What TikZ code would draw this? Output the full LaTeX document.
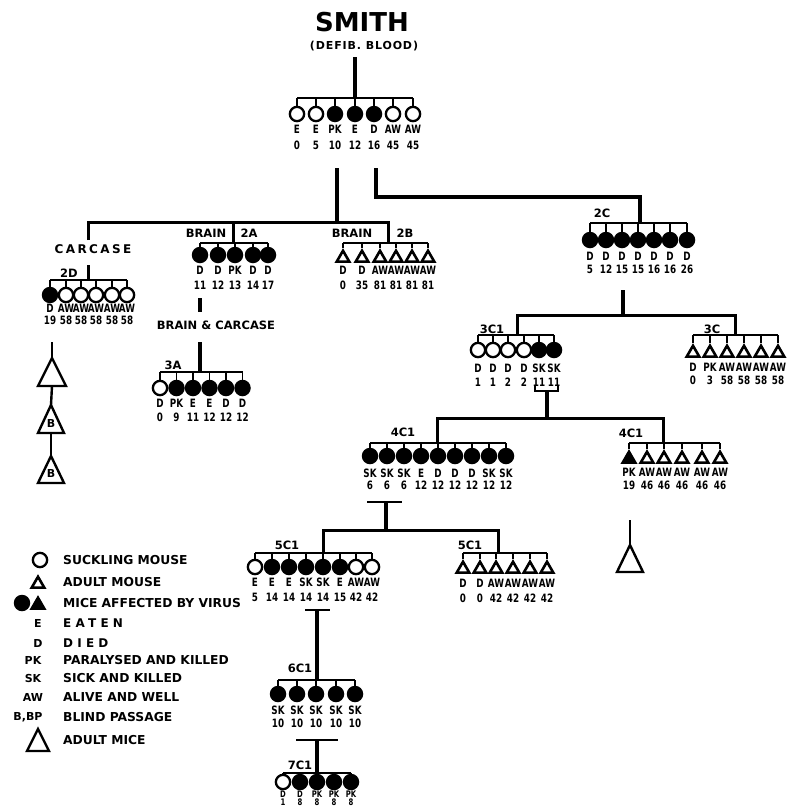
\documentclass[tikz,border=0pt]{standalone}
\usepackage{fontspec}
\setmainfont{DejaVu Sans}
\newfontfamily\labfont{DejaVu Sans Condensed}[FakeStretch=0.85]
\usetikzlibrary{shapes.geometric}
\newcommand\mgroup[6]{%
  \coordinate (#1-y) at (0,#2);
  \foreach \mx/\mt/\ma/\mb [count=\mi] in {#6} {
    \node[\mt] (#1-\mi) at (\mx,#3) {};
    \node[lab] (#1-\mi-a) at (\mx,#3+#4) {\ma};
    \node[lab] (#1-\mi-b) at (\mx,#3+#5) {\mb};
    \draw[tick] (#1-\mi |- #1-y) -- (#1-\mi.north);
    \xdef\mlast{\mi}
  }
  \draw[brk] (#1-1 |- #1-y) -- (#1-\mlast |- #1-y);
}
\newcommand\bigtri[4]{% name, apex, half width, height
  \draw[tri] (#2) -- ++(-#3,#4) -- ++(2*#3,0) -- cycle;
  \path (#2) ++(0,#4) coordinate (#1);
}
\begin{document}
\begin{tikzpicture}[x=1pt,y=-1pt,
  om/.style={circle,draw,line width=2.3pt,minimum size=14.3pt,inner sep=0pt},
  fm/.style={circle,fill,minimum size=16.5pt,inner sep=0pt},
  ta/.style={regular polygon,regular polygon sides=3,draw,line width=2.6pt,line join=miter,minimum size=14.5pt,inner sep=0pt},
  tf/.style={ta,fill},
  lab/.style={font=\labfont\bfseries\fontsize{11.5}{12}\selectfont,inner sep=0pt},
  grp/.style={font=\bfseries\fontsize{11.5}{12}\selectfont,inner sep=0pt},
  leg/.style={anchor=west,font=\bfseries\fontsize{12.3}{12}\selectfont,inner sep=0pt},
  legs/.style={font=\bfseries\fontsize{11}{12}\selectfont,inner sep=0pt},
  trunk/.style={line width=4pt},
  bar/.style={line width=3pt},
  brk/.style={line width=2.4pt},
  tick/.style={line width=1.6pt},
  tri/.style={line width=2.4pt,line join=miter},
]
\useasboundingbox (0,0) rectangle (793,806);
% title
\node[font=\bfseries\fontsize{26}{26}\selectfont,inner sep=0pt] (title) at (362,22) {SMITH};
\node[font=\bfseries\fontsize{11}{11}\selectfont\addfontfeature{LetterSpace=8},inner sep=0pt] (sub) at (364,46) {(DEFIB. BLOOD)};
\mgroup{S}{98}{114}{15}{31}{297/om/E/0, 316/om/E/5, 335/fm/PK/10, 355/fm/E/12, 374/fm/D/16, 393/om/AW/45, 413/om/AW/45}
\coordinate (S-top) at (355,57);
\draw[trunk] (S-top) -- (S-top |- S-y);
% level 2 connectors
\coordinate (SL) at (337,168);
\coordinate (L2) at (337,222);
\coordinate (bar2l) at (88,222);
\coordinate (bar2r) at (388,222);
\coordinate (sep2a) at (233,222);
\coordinate (SR) at (376,168);
\coordinate (R2) at (376,197);
\coordinate (C2) at (640,197);
\draw[trunk] (SL) -- (L2);
\draw[trunk] (SR) -- (R2) -- (C2) -- (640,223);
% 2A
\node[grp] (brainA) at (206,233) {BRAIN};
\node[grp] (l2a) at (249,233) {2A};
\mgroup{2A}{243}{255}{15}{30}{200/fm/D/11, 218/fm/D/12, 235/fm/PK/13, 253/fm/D/14, 268/fm/D/17}
% 2B
\node[grp] (brainB) at (352,233) {BRAIN};
\node[grp] (l2b) at (405,233) {2B};
\mgroup{2B}{243}{258}{12}{27}{343/ta/D/0, 362/ta/D/35, 380/ta/AW/81, 396/ta/AW/81, 412/ta/AW/81, 428/ta/AW/81}
% 2D
\node[grp,font=\bfseries\fontsize{12}{12}\selectfont\addfontfeature{LetterSpace=20}] (carc) at (93,249) {CARCASE};
\node[grp] (l2d) at (69,273) {2D};
\mgroup{2D}{280}{295}{13}{25}{50/fm/D/19, 66/om/AW/58, 81/om/AW/58, 96/om/AW/58, 112/om/AW/58, 127/om/AW/58}
\draw[bar] (88,240) -- (bar2l) -- (bar2r) -- (bar2r |- 2B-y);
\draw[bar] (sep2a) -- (sep2a |- 2A-y);
\coordinate (d2t) at (88,265);
\draw[bar] (d2t) -- (d2t |- 2D-y);
% blind passages
\coordinate (bp0) at (52,342);
\coordinate (bp1) at (52,358);
\draw[tri] (bp0) -- (bp1);
\bigtri{bp1b}{bp1}{14}{28}
\coordinate (bp2) at (51,405);
\draw[tri] (bp1b) -- (bp2);
\bigtri{bp2b}{bp2}{13}{28}
\node[grp,font=\bfseries\fontsize{11}{11}\selectfont] (bB1) at (51,423) {B};
\coordinate (bp3) at (51,456);
\draw[tri] (bp2b) -- (bp3);
\bigtri{bp3b}{bp3}{13}{27}
\node[grp,font=\bfseries\fontsize{11}{11}\selectfont] (bB2) at (51,473) {B};
% 3A
\coordinate (a3s) at (200,298);
\coordinate (a3e) at (200,312);
\draw[trunk] (a3s) -- (a3e);
\node[grp] (bc) at (216,325) {BRAIN \& CARCASE};
\node[grp] (l3a) at (173,365) {3A};
\mgroup{3A}{372}{388}{15}{29}{160/om/D/0, 176.5/fm/PK/9, 193/fm/E/11, 209.5/fm/E/12, 226/fm/D/12, 242.5/fm/D/12}
\coordinate (a3t) at (200,342);
\draw[trunk] (a3t) -- (a3t |- 3A-y);
% 2C
\node[grp] (l2c) at (602,213) {2C};
\mgroup{2C}{223}{240}{16}{29}{590/fm/D/5, 606/fm/D/12, 622/fm/D/15, 638/fm/D/15, 654/fm/D/16, 670/fm/D/16, 687/fm/D/26}
% level 3
\coordinate (c3t) at (623,290);
\coordinate (c3b) at (623,315);
\coordinate (c3l) at (517,315);
\coordinate (c3r) at (735,315);
\draw[trunk] (c3t) -- (c3b);
\node[grp] (l3c1) at (492,329) {3C1};
\mgroup{3C1}{335}{350}{18}{32}{478/om/D/1, 493/om/D/1, 508/om/D/2, 524/om/D/2, 539/fm/SK/11, 554/fm/SK/11}
\node[grp] (l3c) at (712,329) {3C};
\mgroup{3C}{335}{353}{14}{27}{693/ta/D/0, 710/ta/PK/3, 727/ta/AW/58, 744/ta/AW/58, 761/ta/AW/58, 778/ta/AW/58}
\draw[bar] (c3l |- 3C1-y) -- (c3l) -- (c3r) -- (c3r |- 3C-y);
% level 4
\coordinate (k3l) at (535,386);
\coordinate (k3r) at (558,386);
\coordinate (k3) at (547,391);
\draw[brk] (k3l) -- (k3l |- k3) -- (k3r |- k3) -- (k3r);
\coordinate (c4l) at (437,418);
\coordinate (c4r) at (663,418);
\draw[trunk] (k3) -- (k3 |- c4l);
\node[grp] (l4c1) at (403,432) {4C1};
\mgroup{4CL}{443}{456}{17}{29}{370/fm/SK/6, 387/fm/SK/6, 404/fm/SK/6, 421/fm/E/12, 438/fm/D/12, 455/fm/D/12, 472/fm/D/12, 489/fm/SK/12, 506/fm/SK/12}
\node[grp] (l4c1r) at (631,433) {4C1};
\mgroup{4CR}{443}{459}{13}{26}{629/tf/PK/19, 647/ta/AW/46, 664/ta/AW/46, 682/ta/AW/46, 702/ta/AW/46, 720/ta/AW/46}
\draw[bar] (c4l |- 4CL-y) -- (c4l) -- (c4r) -- (c4r |- 4CR-y);
\coordinate (t4s) at (630,520);
\coordinate (t4) at (630,545);
\draw[tri] (t4s) -- (t4);
\bigtri{t4b}{t4}{13}{27}
% level 5
\coordinate (k4l) at (367,502);
\coordinate (k4r) at (402,502);
\coordinate (k4) at (386,502);
\coordinate (c5l) at (323,530);
\coordinate (c5r) at (498,530);
\draw[brk] (k4l) -- (k4r);
\draw[trunk] (k4) -- (k4 |- c5l);
\node[grp] (l5c1) at (287,545) {5C1};
\mgroup{5CL}{553}{567}{15}{30}{255/om/E/5, 272/fm/E/14, 289/fm/E/14, 306/fm/SK/14, 323/fm/SK/14, 340/fm/E/15, 356/om/AW/42, 372/om/AW/42}
\node[grp] (l5c1r) at (470,545) {5C1};
\mgroup{5CR}{553}{569}{14}{29}{463/ta/D/0, 480/ta/D/0, 496/ta/AW/42, 513/ta/AW/42, 530/ta/AW/42, 547/ta/AW/42}
\draw[bar] (c5l |- 5CL-y) -- (c5l) -- (c5r) -- (c5r |- 5CR-y);
% level 6
\coordinate (k5l) at (305,610);
\coordinate (k5r) at (330,610);
\coordinate (k5) at (317,610);
\draw[brk] (k5l) -- (k5r);
\node[grp] (l6c1) at (300,668) {6C1};
\mgroup{6C}{680}{694}{16}{29}{278/fm/SK/10, 297/fm/SK/10, 316/fm/SK/10, 336/fm/SK/10, 355/fm/SK/10}
\draw[trunk] (k5) -- (k5 |- 6C-y);
% level 7
\coordinate (k6l) at (296,740);
\coordinate (k6r) at (338,740);
\coordinate (k6) at (317,740);
\draw[brk] (k6l) -- (k6r);
\node[grp] (l7c1) at (300,765) {7C1};
\begin{scope}[lab/.style={font=\labfont\bfseries\fontsize{9}{9}\selectfont,inner sep=0pt}]
\mgroup{7C}{773}{782}{12}{20}{283/om/D/1, 300/fm/D/8, 317/fm/PK/8, 334/fm/PK/8, 351/fm/PK/8}
\end{scope}
\draw[trunk] (k6) -- (k6 |- 7C-y);
% legend
\node[om] (lg1) at (40,560) {};
\node[leg] (lt1) at (63,560) {SUCKLING MOUSE};
\node[ta] (lg2) at (38,584) {};
\node[leg] (lt2) at (63,582) {ADULT MOUSE};
\node[fm] (lg3a) at (22,603) {};
\node[tf] (lg3b) at (38,605) {};
\node[leg] (lt3) at (63,603) {MICE AFFECTED BY VIRUS};
\node[legs] (lg4) at (38,623) {E};
\node[leg,font=\bfseries\fontsize{12}{12}\selectfont\addfontfeature{LetterSpace=35}] (lt4) at (63,623) {EATEN};
\node[legs] (lg5) at (38,643) {D};
\node[leg,font=\bfseries\fontsize{12}{12}\selectfont\addfontfeature{LetterSpace=35}] (lt5) at (63,643) {DIED};
\node[legs] (lg6) at (33,660) {PK};
\node[leg] (lt6) at (63,660) {PARALYSED AND KILLED};
\node[legs] (lg7) at (33,678) {SK};
\node[leg] (lt7) at (63,678) {SICK AND KILLED};
\node[legs] (lg8) at (33,697) {AW};
\node[leg] (lt8) at (63,697) {ALIVE AND WELL};
\node[legs] (lg9) at (28,717) {B,BP};
\node[leg] (lt9) at (63,717) {BLIND PASSAGE};
\coordinate (lg10) at (38,729);
\bigtri{lg10b}{lg10}{11}{22}
\node[leg] (lt10) at (63,740) {ADULT MICE};
\end{tikzpicture}
\end{document}
